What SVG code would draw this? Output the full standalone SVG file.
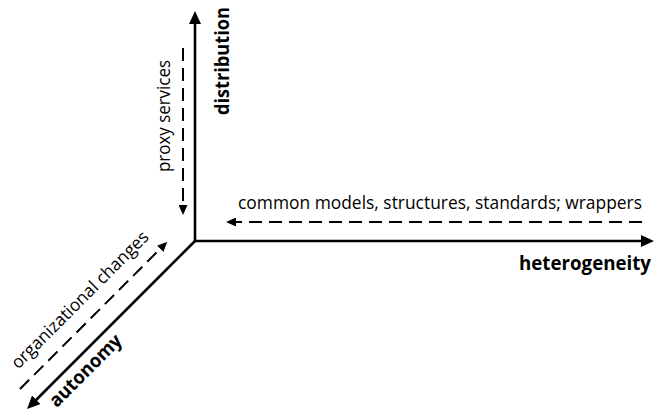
<svg xmlns="http://www.w3.org/2000/svg" width="661" height="413" viewBox="0 0 661 413">
  <style>
    .axis { stroke: #000; stroke-width: 2.6; fill: none; }
    .dash { stroke: #000; stroke-width: 2; fill: none; stroke-dasharray: 13 7; }
    .lbl { font-family: "Open Sans", "Noto Sans", sans-serif; font-size: 17.5px; fill: #000; }
    .bold { font-family: "Open Sans", "Noto Sans", sans-serif; font-size: 19px; font-weight: bold; fill: #000; }
  </style>
  <defs>
    <marker id="ah" markerUnits="userSpaceOnUse" markerWidth="13" markerHeight="12" refX="6" refY="6" orient="auto">
      <path d="M0,0 L13,6 L0,12 z" fill="#000"/>
    </marker>
    <marker id="dh" markerUnits="userSpaceOnUse" markerWidth="10" markerHeight="9" refX="4" refY="4.5" orient="auto">
      <path d="M0,0 L10,4.5 L0,9 z" fill="#000"/>
    </marker>
  </defs>
  <rect width="661" height="413" fill="#fff"/>
  <g id="connectors">
    <line id="axis-heterogeneity" class="axis" x1="195" y1="241" x2="647" y2="241" marker-end="url(#ah)"/>
    <line id="axis-distribution" class="axis" x1="195" y1="242" x2="195" y2="18" marker-end="url(#ah)"/>
    <line id="axis-autonomy" class="axis" x1="196" y1="240" x2="32" y2="404" marker-end="url(#ah)"/>
    <line id="dash-heterogeneity" class="dash" x1="642" y1="222" x2="232" y2="222" marker-end="url(#dh)"/>
    <line id="dash-distribution" class="dash" x1="183" y1="48" x2="183" y2="209" marker-end="url(#dh)"/>
    <line id="dash-autonomy" class="dash" x1="20" y1="389" x2="163" y2="246" marker-end="url(#dh)"/>
  </g>
  <g id="heterogeneity">
    <text class="bold" x="519" y="270" textLength="132" lengthAdjust="spacingAndGlyphs">heterogeneity</text>
    <text class="lbl" x="238" y="209" textLength="404" lengthAdjust="spacingAndGlyphs">common models, structures, standards; wrappers</text>
  </g>
  <g id="distribution">
    <text class="bold" transform="translate(229,61) rotate(-90)" text-anchor="middle" textLength="108" lengthAdjust="spacingAndGlyphs">distribution</text>
    <text class="lbl" transform="translate(170,116) rotate(-90)" text-anchor="middle" textLength="112" lengthAdjust="spacingAndGlyphs">proxy services</text>
  </g>
  <g id="autonomy">
    <text class="bold" transform="translate(90,375) rotate(-45)" text-anchor="middle" textLength="94" lengthAdjust="spacingAndGlyphs">autonomy</text>
    <text class="lbl" transform="translate(84,304) rotate(-45)" text-anchor="middle" textLength="186" lengthAdjust="spacingAndGlyphs">organizational changes</text>
  </g>
</svg>
